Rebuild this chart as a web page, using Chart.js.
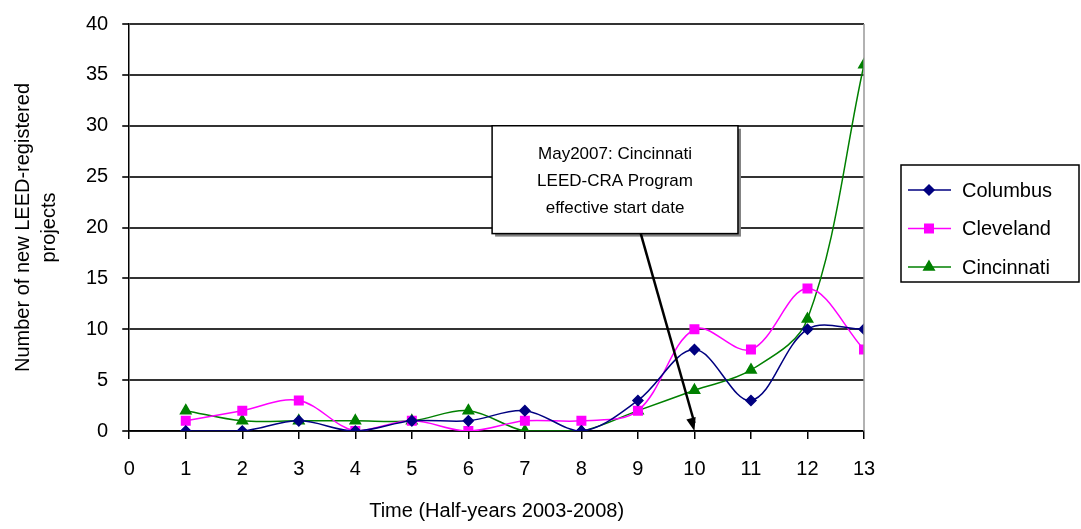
<!DOCTYPE html>
<html>
<head>
<meta charset="utf-8">
<script src="https://cdn.jsdelivr.net/npm/chart.js@4/dist/chart.umd.min.js"></script>
<style>
  html, body { margin: 0; padding: 0; background: #fff; }
  #wrap { width: 1081px; height: 529px; position: relative; }
</style>
</head>
<body>
<div id="wrap"><canvas id="leedChart" width="1081" height="529"></canvas></div>
<script>
const halfYears = [1, 2, 3, 4, 5, 6, 7, 8, 9, 10, 11, 12, 13];
const columbus = [0, 0, 1, 0, 1, 1, 2, 0, 3, 8, 3, 10, 10];
const cleveland = [1, 2, 3, 0, 1, 0, 1, 1, 2, 10, 8, 14, 8];
const cincinnati = [2, 1, 1, 1, 1, 2, 0, 0, 2, 4, 6, 11, 36];
const noteLines = ["May2007: Cincinnati", "LEED-CRA Program", "effective start date"];

// note box + arrow, in data units
const note = { x1: 6.42, x2: 10.77, yTop: 30, yBottom: 19.4, arrowFrom: 9.05, arrowTo: { x: 10, y: 0 } };

const FONT = "'Liberation Sans', Arial, sans-serif";

function points(vals) {
    return halfYears.map((x, i) => ({ x: x, y: vals[i] }));
}

function series(label, vals, color, shape, radius) {
    return {
        label: label,
        data: points(vals),
        borderColor: color,
        backgroundColor: color,
        borderWidth: 1.5,
        pointStyle: shape,
        pointRadius: radius,
        pointHoverRadius: radius,
        tension: 0.35,
        fill: false
    };
}

const extras = {
    id: 'extras',
    afterDraw(chart) {
        const ctx = chart.ctx;
        const xs = chart.scales.x, ys = chart.scales.y;
        const area = chart.chartArea;

        // right border of plot area
        ctx.save();
        ctx.strokeStyle = '#999';
        ctx.lineWidth = 1.5;
        ctx.beginPath();
        ctx.moveTo(area.right, area.top);
        ctx.lineTo(area.right, area.bottom);
        ctx.stroke();

        // note box
        const bx = xs.getPixelForValue(note.x1), bx2 = xs.getPixelForValue(note.x2);
        const by = ys.getPixelForValue(note.yTop), by2 = ys.getPixelForValue(note.yBottom);
        ctx.fillStyle = '#808080';
        ctx.fillRect(bx + 3, by + 3, bx2 - bx, by2 - by);
        ctx.fillStyle = '#fff';
        ctx.fillRect(bx, by, bx2 - bx, by2 - by);
        ctx.strokeStyle = '#000';
        ctx.lineWidth = 1.5;
        ctx.strokeRect(bx, by, bx2 - bx, by2 - by);
        ctx.fillStyle = '#000';
        ctx.font = '17px ' + FONT;
        ctx.textAlign = 'center';
        ctx.textBaseline = 'middle';
        const cx = (bx + bx2) / 2;
        noteLines.forEach((t, i) => ctx.fillText(t, cx, by + 29 + i * 27));

        // arrow
        const ax = xs.getPixelForValue(note.arrowFrom), ay = by2;
        const tx = xs.getPixelForValue(note.arrowTo.x), ty = ys.getPixelForValue(note.arrowTo.y);
        ctx.lineWidth = 2.5;
        ctx.beginPath();
        ctx.moveTo(ax, ay);
        ctx.lineTo(tx, ty - 8);
        ctx.stroke();
        const ang = Math.atan2(ty - ay, tx - ax);
        ctx.beginPath();
        ctx.moveTo(tx, ty);
        ctx.lineTo(tx - 14 * Math.cos(ang - 0.35), ty - 14 * Math.sin(ang - 0.35));
        ctx.lineTo(tx - 14 * Math.cos(ang + 0.35), ty - 14 * Math.sin(ang + 0.35));
        ctx.closePath();
        ctx.fill();

        // legend
        const lx = 901, ly = 165, lw = 178, lh = 117;
        ctx.lineWidth = 1.5;
        ctx.strokeStyle = '#000';
        ctx.strokeRect(lx, ly, lw, lh);
        ctx.font = '20px ' + FONT;
        ctx.textAlign = 'left';
        chart.data.datasets.forEach((ds, i) => {
            const yy = ly + 25 + i * 38.5;
            ctx.strokeStyle = ds.borderColor;
            ctx.lineWidth = 1.5;
            ctx.beginPath();
            ctx.moveTo(lx + 7, yy);
            ctx.lineTo(lx + 50, yy);
            ctx.stroke();
            ctx.fillStyle = ds.borderColor;
            Chart.helpers.drawPoint(ctx, {
                pointStyle: ds.pointStyle, radius: ds.pointRadius, rotation: 0, borderWidth: 1
            }, lx + 28, yy);
            ctx.fill();
            ctx.fillStyle = '#000';
            ctx.fillText(ds.label, lx + 61, yy + 1);
        });
        ctx.restore();
    }
};

new Chart(document.getElementById('leedChart'), {
    type: 'line',
    data: {
        datasets: [
            series('Columbus', columbus, '#000080', 'rectRot', 5),
            series('Cleveland', cleveland, '#FF00FF', 'rect', 6),
            series('Cincinnati', cincinnati, '#008000', 'triangle', 6)
        ]
    },
    options: {
        responsive: false,
        animation: false,
        devicePixelRatio: 1,
        layout: { padding: { top: 0, right: 217, left: 6, bottom: 4 } },
        plugins: { legend: { display: false }, tooltip: { enabled: false } },
        scales: {
            x: {
                type: 'linear',
                min: 0,
                max: 13,
                ticks: { stepSize: 1, color: '#000', font: { family: FONT, size: 20 }, padding: 18 },
                grid: { drawOnChartArea: false, drawTicks: true, tickLength: 8, color: '#000', lineWidth: 1.5 },
                border: { color: '#000', width: 1.5 },
                title: { display: true, text: 'Time (Half-years 2003-2008)', color: '#000', font: { family: FONT, size: 20 }, padding: { top: 0, bottom: 2 } }
            },
            y: {
                min: 0,
                max: 40,
                ticks: { stepSize: 5, color: '#000', font: { family: FONT, size: 20, lineHeight: 1 }, padding: 14 },
                grid: { color: '#333', lineWidth: 2, tickLength: 7 },
                border: { color: '#000', width: 1.5 },
                title: { display: true, text: ['Number of new LEED-registered', 'projects'], color: '#000', font: { family: FONT, size: 20, lineHeight: 1.3 }, padding: { bottom: 10 } }
            }
        }
    },
    plugins: [extras]
});
</script>
</body>
</html>
